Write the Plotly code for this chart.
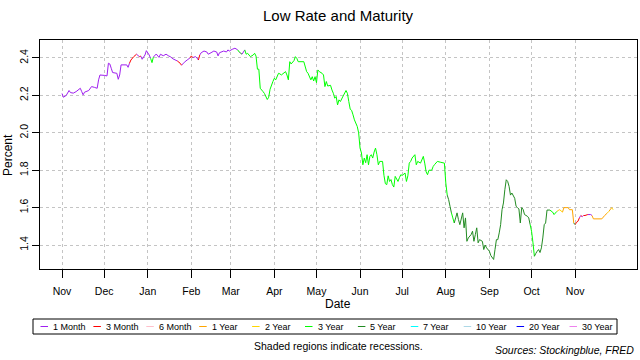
import plotly.graph_objects as go

# ---------------- data ----------------
maturities = ["1 Month", "3 Month", "6 Month", "1 Year", "2 Year", "3 Year",
              "5 Year", "7 Year", "10 Year", "20 Year", "30 Year"]
codes = ["1M", "3M", "6M", "1Y", "2Y", "3Y", "5Y", "7Y", "10Y", "20Y", "30Y"]
mat_colors = ["#A020F0", "#FF0000", "#FFC0CB", "#FFA500", "#FFD700", "#00FF00",
              "#228B22", "#00FFFF", "#ADD8E6", "#0000FF", "#EE82EE"]

month_ticks = ["2018-11-01", "2018-12-01", "2019-01-01", "2019-02-01", "2019-03-01",
               "2019-04-01", "2019-05-01", "2019-06-01", "2019-07-01", "2019-08-01",
               "2019-09-01", "2019-10-01", "2019-11-01"]
month_labels = ["Nov", "Dec", "Jan", "Feb", "Mar", "Apr", "May", "Jun", "Jul",
                "Aug", "Sep", "Oct", "Nov"]
y_ticks = [1.4, 1.6, 1.8, 2.0, 2.2, 2.4]
y_labels = ["1.4", "1.6", "1.8", "2.0", "2.2", "2.4"]

dates = [
    "2018-11-01", "2018-11-02", "2018-11-04", "2018-11-06", "2018-11-07", "2018-11-09",
    "2018-11-11", "2018-11-14", "2018-11-15", "2018-11-16", "2018-11-17", "2018-11-20",
    "2018-11-22", "2018-11-24", "2018-11-26", "2018-11-27", "2018-11-28",
    "2018-12-01", "2018-12-03", "2018-12-04", "2018-12-05", "2018-12-06", "2018-12-07",
    "2018-12-10", "2018-12-11", "2018-12-12", "2018-12-13", "2018-12-17", "2018-12-18",
    "2018-12-19", "2018-12-20", "2018-12-22", "2018-12-24", "2018-12-26", "2018-12-27",
    "2018-12-28", "2018-12-30", "2018-12-31",
    "2019-01-02", "2019-01-03", "2019-01-04", "2019-01-05", "2019-01-07", "2019-01-09",
    "2019-01-10", "2019-01-12", "2019-01-14", "2019-01-16", "2019-01-17", "2019-01-19",
    "2019-01-22", "2019-01-24", "2019-01-25", "2019-01-27", "2019-01-29", "2019-01-31",
    "2019-02-01", "2019-02-02", "2019-02-04", "2019-02-05", "2019-02-06", "2019-02-07",
    "2019-02-08", "2019-02-10", "2019-02-12", "2019-02-13", "2019-02-15", "2019-02-17",
    "2019-02-19", "2019-02-20", "2019-02-21", "2019-02-24", "2019-02-26", "2019-02-27",
    "2019-02-28",
    "2019-03-02", "2019-03-04", "2019-03-06", "2019-03-07", "2019-03-09", "2019-03-11",
    "2019-03-12", "2019-03-13", "2019-03-15", "2019-03-17", "2019-03-18", "2019-03-19",
    "2019-03-20", "2019-03-21", "2019-03-22", "2019-03-24", "2019-03-25", "2019-03-27",
    "2019-03-28", "2019-03-29", "2019-03-31",
    "2019-04-01", "2019-04-02", "2019-04-04", "2019-04-05", "2019-04-06", "2019-04-09",
    "2019-04-10", "2019-04-11", "2019-04-12", "2019-04-13", "2019-04-15", "2019-04-16",
    "2019-04-17", "2019-04-18", "2019-04-22", "2019-04-24", "2019-04-25", "2019-04-27",
    "2019-04-28", "2019-04-29", "2019-04-30",
    "2019-05-01", "2019-05-02", "2019-05-03", "2019-05-05", "2019-05-06", "2019-05-07",
    "2019-05-08", "2019-05-09", "2019-05-11", "2019-05-12", "2019-05-13", "2019-05-14",
    "2019-05-15", "2019-05-16", "2019-05-17", "2019-05-18", "2019-05-20", "2019-05-22",
    "2019-05-23", "2019-05-24", "2019-05-25", "2019-05-26", "2019-05-27", "2019-05-28",
    "2019-05-30", "2019-05-31",
    "2019-06-01", "2019-06-02", "2019-06-03", "2019-06-04", "2019-06-05", "2019-06-06",
    "2019-06-07", "2019-06-08", "2019-06-09", "2019-06-10", "2019-06-11", "2019-06-12",
    "2019-06-13", "2019-06-14", "2019-06-15", "2019-06-17", "2019-06-18", "2019-06-19",
    "2019-06-20", "2019-06-21", "2019-06-22", "2019-06-23", "2019-06-24", "2019-06-25",
    "2019-06-26", "2019-06-28", "2019-06-29", "2019-06-30",
    "2019-07-01", "2019-07-03", "2019-07-04", "2019-07-05", "2019-07-06", "2019-07-07",
    "2019-07-08", "2019-07-10", "2019-07-11", "2019-07-12", "2019-07-14", "2019-07-16",
    "2019-07-17", "2019-07-18", "2019-07-19", "2019-07-20", "2019-07-22", "2019-07-23",
    "2019-07-24", "2019-07-26", "2019-07-28", "2019-07-31",
    "2019-08-01", "2019-08-02", "2019-08-03", "2019-08-04", "2019-08-05", "2019-08-06",
    "2019-08-07", "2019-08-08", "2019-08-09", "2019-08-10", "2019-08-11", "2019-08-13",
    "2019-08-14", "2019-08-15", "2019-08-16", "2019-08-17", "2019-08-19", "2019-08-20",
    "2019-08-21", "2019-08-22", "2019-08-23", "2019-08-24", "2019-08-25", "2019-08-27",
    "2019-08-28", "2019-08-29", "2019-08-30",
    "2019-09-01", "2019-09-02", "2019-09-04", "2019-09-05", "2019-09-06", "2019-09-07",
    "2019-09-08", "2019-09-09", "2019-09-10", "2019-09-11", "2019-09-12", "2019-09-13",
    "2019-09-14", "2019-09-15", "2019-09-16", "2019-09-17", "2019-09-19", "2019-09-20",
    "2019-09-21", "2019-09-22", "2019-09-23", "2019-09-24", "2019-09-25", "2019-09-26",
    "2019-09-28", "2019-09-29", "2019-09-30",
    "2019-10-01", "2019-10-02", "2019-10-03", "2019-10-04", "2019-10-05", "2019-10-06",
    "2019-10-07", "2019-10-08", "2019-10-09", "2019-10-10", "2019-10-11", "2019-10-12",
    "2019-10-14", "2019-10-16", "2019-10-17", "2019-10-19", "2019-10-20", "2019-10-21",
    "2019-10-23", "2019-10-24", "2019-10-27", "2019-10-28", "2019-10-30", "2019-10-31",
    "2019-11-01", "2019-11-02", "2019-11-03", "2019-11-04", "2019-11-05", "2019-11-06",
    "2019-11-07", "2019-11-08", "2019-11-10", "2019-11-12", "2019-11-13", "2019-11-14",
    "2019-11-20", "2019-11-22", "2019-11-24", "2019-11-25", "2019-11-27", "2019-11-28",
]

rates = [
    2.21, 2.19, 2.20, 2.226, 2.215, 2.212,
    2.22, 2.238, 2.22, 2.203, 2.217, 2.226,
    2.247, 2.243, 2.238, 2.283, 2.309,
    2.307, 2.304, 2.372, 2.368, 2.345, 2.322,
    2.318, 2.286, 2.309, 2.363, 2.363, 2.35,
    2.372, 2.389, 2.407, 2.42, 2.407, 2.41,
    2.393, 2.416, 2.439,
    2.416, 2.398, 2.375, 2.405, 2.421, 2.403,
    2.42, 2.412, 2.42, 2.41, 2.407, 2.395,
    2.384, 2.372, 2.361, 2.377, 2.389, 2.40,
    2.411, 2.402, 2.407, 2.40, 2.389, 2.416,
    2.428, 2.437, 2.432, 2.42, 2.428, 2.437,
    2.432, 2.411, 2.428, 2.437, 2.432, 2.443,
    2.437,
    2.446, 2.452, 2.443, 2.432, 2.42, 2.443,
    2.42, 2.425, 2.407, 2.416, 2.425, 2.41,
    2.34, 2.34, 2.238, 2.22, 2.21, 2.178,
    2.19, 2.233, 2.274,
    2.291, 2.283, 2.318, 2.315, 2.309, 2.327,
    2.309, 2.283, 2.38, 2.368, 2.386, 2.407,
    2.398, 2.38, 2.38, 2.327, 2.318, 2.283,
    2.30, 2.277, 2.30,
    2.268, 2.336, 2.327, 2.318, 2.309, 2.247,
    2.274, 2.25, 2.254, 2.229, 2.211, 2.185,
    2.194, 2.149, 2.176, 2.167, 2.197, 2.226,
    2.211, 2.167, 2.126, 2.12, 2.096, 2.069,
    2.034, 2.0,
    1.918, 1.892, 1.829, 1.865, 1.84, 1.883,
    1.829, 1.874, 1.883, 1.865, 1.897, 1.918,
    1.883, 1.829, 1.847, 1.847, 1.773, 1.728,
    1.723, 1.77, 1.74, 1.75, 1.723, 1.71,
    1.767, 1.74, 1.76, 1.776,
    1.772, 1.785, 1.74, 1.77, 1.838, 1.847,
    1.865, 1.883, 1.829, 1.847, 1.838, 1.874,
    1.838, 1.791, 1.776, 1.80, 1.80, 1.82,
    1.83, 1.847, 1.843, 1.838,
    1.732, 1.667, 1.643, 1.607, 1.572, 1.545,
    1.518, 1.545, 1.572, 1.536, 1.509, 1.572,
    1.492, 1.545, 1.42, 1.438, 1.456, 1.474,
    1.42, 1.456, 1.492, 1.412, 1.429, 1.42,
    1.376, 1.40, 1.385,
    1.367, 1.344, 1.323, 1.376, 1.429, 1.429,
    1.465, 1.509, 1.589, 1.625, 1.696, 1.749,
    1.74, 1.714, 1.667, 1.678, 1.65, 1.607,
    1.60, 1.593, 1.518, 1.60, 1.59, 1.563,
    1.554, 1.545, 1.509,
    1.474, 1.412, 1.34, 1.355, 1.367, 1.376,
    1.36, 1.385, 1.438, 1.509, 1.518, 1.587,
    1.587, 1.576, 1.563, 1.58, 1.585, 1.589,
    1.576, 1.60, 1.60, 1.589, 1.589, 1.518,
    1.509, 1.522, 1.527, 1.545, 1.558, 1.552,
    1.558, 1.558, 1.563, 1.563, 1.558, 1.54,
    1.54, 1.558, 1.572, 1.58, 1.60, 1.589,
]

lowest = (
    ["1M"] * 30
    + ["3M", "3M", "3M", "1M", "3M", "1M", "1M", "1M"]
    + ["1M", "1M", "3Y", "3Y", "1M", "1M", "1M", "1M", "1M", "1M", "1M", "1M",
       "1M", "3M", "3M", "1M", "1M", "1M"]
    + ["3M", "3M", "1M", "1M", "1M", "3M", "1M", "1M", "1M", "1M", "1M", "1M",
       "1M", "1M", "1M", "1M", "1M", "1M", "1M"]
    + ["1M", "1M", "1M", "3Y", "5Y", "1M", "3Y"]
    + ["3Y"] * 111
    + ["3Y", "3Y", "5Y", "5Y", "5Y", "3Y", "3Y", "5Y"]
    + ["5Y"] * 46
    + ["3Y", "3Y", "3Y", "5Y", "5Y", "5Y", "5Y", "5Y", "5Y", "5Y", "5Y", "5Y",
       "5Y", "3Y", "3Y", "3Y", "2Y", "1Y", "2Y", "1Y", "1Y", "1Y", "1Y", "1Y"]
    + ["5Y", "3M", "3M", "3M", "1M", "3M", "1M", "3M", "3M", "1M", "1M", "1Y",
       "1Y", "1Y", "1Y", "2Y", "1Y", "2Y"]
)

# ---------------- figure ----------------
n = min(len(dates), len(rates), len(lowest))
fig = go.Figure()
for code, label, color in zip(codes, maturities, mat_colors):
    xs, ys = [], []
    for i in range(1, n):
        if lowest[i] == code:
            xs += [dates[i - 1], dates[i], None]
            ys += [rates[i - 1], rates[i], None]
    if xs:
        fig.add_trace(go.Scatter(x=xs, y=ys, mode="lines", name=label,
                                 line=dict(color=color, width=1),
                                 showlegend=False, hoverinfo="skip"))

FONT = "Liberation Sans, Arial, Helvetica, sans-serif"
L, R, T, B = 40, 637, 40, 269


def px(x):
    return (x - L) / (R - L)


def py(y):
    return (B - y) / (B - T)


annotations = [
    dict(text="Low Rate and Maturity", x=px(338), y=py(16), font=dict(size=15)),
    dict(text="Date", x=px(338), y=py(304), font=dict(size=12)),
    dict(text="Percent", x=px(8), y=py(155), textangle=-90, font=dict(size=12)),
    dict(text="Shaded regions indicate recessions.", x=px(338), y=py(346),
         font=dict(size=10.5)),
    dict(text="<i>Sources: Stockingblue, FRED</i>", x=px(636), y=py(350),
         xanchor="right", font=dict(size=10.5)),
]
shapes = [dict(type="rect", xref="paper", yref="paper", x0=px(33), x1=px(617),
               y0=py(334), y1=py(319), line=dict(color="black", width=1))]
for i, (label, color) in enumerate(zip(maturities, mat_colors)):
    x0 = 40.5 + 52.9 * i
    shapes.append(dict(type="line", xref="paper", yref="paper", x0=px(x0),
                       x1=px(x0 + 7.5), y0=py(326.5), y1=py(326.5),
                       line=dict(color=color, width=1)))
    annotations.append(dict(text=label, x=px(x0 + 10.5), y=py(326.5),
                            xanchor="left", font=dict(size=9)))

for a in annotations:
    a.setdefault("xanchor", "center")
    a.setdefault("yanchor", "middle")
    a.update(xref="paper", yref="paper", showarrow=False)
    a["font"].update(family=FONT, color="black")

fig.update_layout(
    width=640, height=360, autosize=False,
    margin=dict(l=L, r=640 - R, t=T, b=360 - B, autoexpand=False),
    paper_bgcolor="white", plot_bgcolor="white",
    font=dict(family=FONT, color="black"),
    annotations=annotations, shapes=shapes,
    showlegend=False,
)
fig.update_xaxes(
    type="date", range=["2018-10-16 08:00", "2019-12-15"],
    tickvals=month_ticks, ticktext=month_labels, automargin=False,
    ticks="outside", ticklen=8, tickcolor="black", tickfont=dict(size=10.5),
    ticklabelstandoff=4,
    showline=True, linecolor="black", linewidth=1, mirror=True,
    showgrid=True, gridcolor="#C4C4C4", griddash="dot", gridwidth=1,
    zeroline=False,
)
fig.update_yaxes(
    range=[1.272, 2.496], tickvals=y_ticks, ticktext=y_labels, tickangle=-90,
    automargin=False,
    ticks="outside", ticklen=7, tickcolor="black", tickfont=dict(size=10.5),
    showline=True, linecolor="black", linewidth=1, mirror=True,
    showgrid=True, gridcolor="#C4C4C4", griddash="dot", gridwidth=1,
    zeroline=False,
)

fig.write_html(
    "out.html",
    config={"responsive": False, "displayModeBar": False},
    post_script=("document.body.style.margin='0';"
                 "document.body.style.overflow='hidden';"),
)
